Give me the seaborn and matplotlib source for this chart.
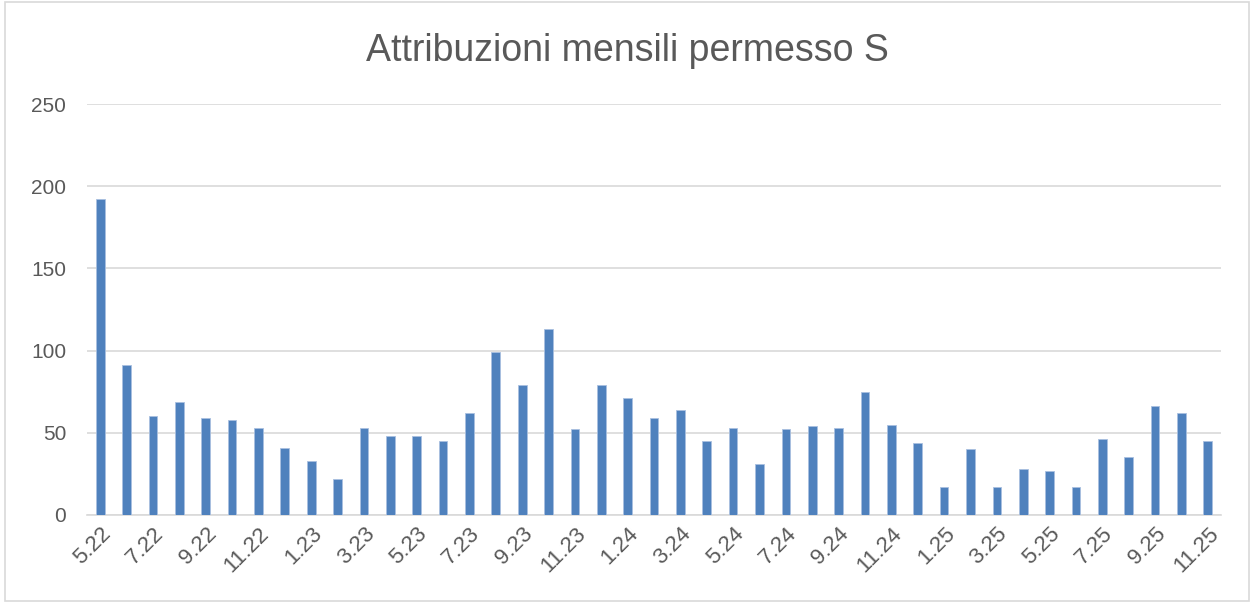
import matplotlib
matplotlib.use("Agg")
import matplotlib.pyplot as plt
import seaborn as sns
import pandas as pd
from matplotlib.patches import Rectangle

months = ["5.22", "6.22", "7.22", "8.22", "9.22", "10.22", "11.22", "12.22",
          "1.23", "2.23", "3.23", "4.23", "5.23", "6.23", "7.23", "8.23",
          "9.23", "10.23", "11.23", "12.23", "1.24", "2.24", "3.24", "4.24",
          "5.24", "6.24", "7.24", "8.24", "9.24", "10.24", "11.24", "12.24",
          "1.25", "2.25", "3.25", "4.25", "5.25", "6.25", "7.25", "8.25",
          "9.25", "10.25", "11.25"]
counts = [192, 91, 60, 69, 59, 58, 53, 41,
          33, 22, 53, 48, 48, 45, 62, 99,
          79, 113, 52, 79, 71, 59, 64, 45,
          53, 31, 52, 54, 53, 75, 55, 44,
          17, 40, 17, 28, 27, 17, 46, 35,
          66, 62, 45]
y_ticks = [0, 50, 100, 150, 200, 250]

df = pd.DataFrame({"Mese": months, "Attribuzioni": counts})

sns.set_style("white")
plt.rcParams["font.family"] = ["Liberation Sans", "DejaVu Sans"]
text_col = "#595959"

fig = plt.figure(figsize=(12.54, 6.03), dpi=100)
fig.patches.append(Rectangle((0.004, 0.004), 0.992, 0.992, transform=fig.transFigure,
                             fill=False, edgecolor="#D9D9D9", linewidth=1.2))
ax = fig.add_axes([0.0694, 0.146, 0.9043, 0.6815])

sns.barplot(data=df, x="Mese", y="Attribuzioni", color="#4F81BD", width=0.33,
            saturation=1, edgecolor="#A9C0E0", linewidth=0.6, ax=ax, zorder=3)

ax.set_ylim(0, 250)
ax.set_yticks(y_ticks)
ax.set_xlim(-0.5, len(months) - 0.5)
ax.yaxis.grid(True, color="#D9D9D9", linewidth=1.2, zorder=0)
ax.set_axisbelow(True)
for s in ["top", "right", "left"]:
    ax.spines[s].set_visible(False)
ax.spines["bottom"].set_color("#D9D9D9")
ax.spines["bottom"].set_linewidth(1.2)

ax.set_xticks(range(0, len(months), 2))
ax.set_xticklabels(months[::2], rotation=45, ha="right", rotation_mode="anchor")
ax.tick_params(axis="x", length=0, labelsize=16, colors=text_col, pad=6)
ax.tick_params(axis="y", length=0, labelsize=15, colors=text_col, pad=15)
ax.set_xlabel("")
ax.set_ylabel("")

fig.text(0.5, 0.915, "Attribuzioni mensili permesso S", ha="center", va="center",
         fontsize=27, color=text_col)

fig.savefig("out.png", dpi=100)
